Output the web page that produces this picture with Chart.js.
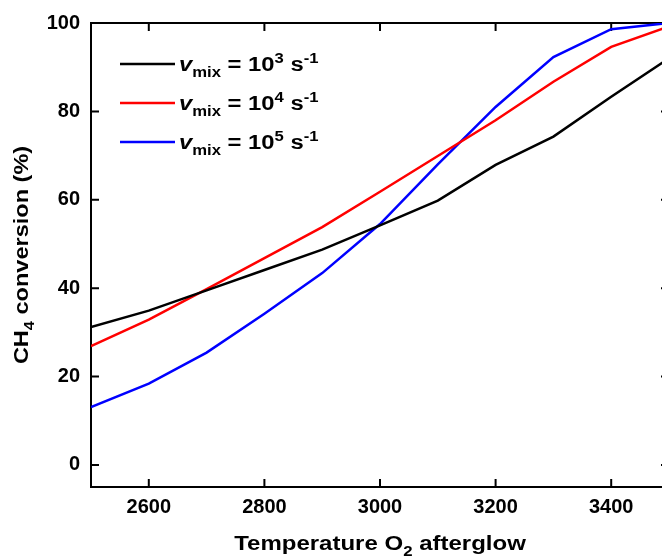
<!DOCTYPE html>
<html>
<head>
<meta charset="utf-8">
<title>CH4 conversion</title>
<script src="https://cdn.jsdelivr.net/npm/chart.js@4/dist/chart.umd.min.js"></script>
<style>
    html, body { margin: 0; padding: 0; overflow: hidden; background: #fff; }
    #wrap { position: absolute; left: 0; top: 0; width: 700px; height: 556px; }
</style>
</head>
<body>
<div id="wrap"><canvas id="convChart"></canvas></div>
<script>
// Data
const temperatures = [2500, 2600, 2700, 2800, 2900, 3000, 3100, 3200, 3300, 3400, 3500];
const conv1e3 = [31.2, 34.9, 39.5, 44.1, 48.7, 54.2, 59.8, 67.9, 74.3, 83.3, 92.0];
const conv1e4 = [26.9, 32.9, 39.8, 46.8, 53.8, 61.8, 69.9, 78.0, 86.7, 94.6, 99.2];
const conv1e5 = [13.1, 18.4, 25.4, 34.2, 43.4, 54.5, 68.0, 81.0, 92.3, 98.6, 100];

const xTicks = [2600, 2800, 3000, 3200, 3400];
const yTicks = [0, 20, 40, 60, 80, 100];

const seriesLabels = ["3", "4", "5"];   // exponent of v_mix
const seriesColors = ["#000000", "#ff0000", "#0000ff"];

const FONT = "'Liberation Sans', Arial, sans-serif";

// area of the plot inside the canvas (right side runs past the window)
const AREA = { left: 91, right: 669, top: 21, bottom: 487 };
const CANVAS_W = 700, CANVAS_H = 556;

function toPoints(values) {
    return temperatures.map((t, i) => ({ x: t, y: values[i] }));
}

// text with sub/superscripts: parts = [[text, kind]], kind = "", "it", "sub", "sup"
function drawRich(ctx, parts, x, y, size, align, sx) {
    const fontFor = kind => {
        const s = (kind === "sub" || kind === "sup") ? size * 0.7 : size;
        return (kind === "it" ? "italic " : "") + "bold " + s + "px " + FONT;
    };
    let total = 0;
    parts.forEach(p => { ctx.font = fontFor(p[1]); total += ctx.measureText(p[0]).width; });
    ctx.save();
    ctx.translate(x, y);
    ctx.scale(sx, 1);
    let cx = align === "center" ? -total / 2 : 0;
    ctx.textAlign = "left";
    ctx.textBaseline = "alphabetic";
    ctx.fillStyle = "#000";
    parts.forEach(p => {
        ctx.font = fontFor(p[1]);
        let dy = 0;
        if (p[1] === "sub") dy = size * 0.3;
        if (p[1] === "sup") dy = -size * 0.42;
        ctx.fillText(p[0], cx, dy);
        cx += ctx.measureText(p[0]).width;
    });
    ctx.restore();
}

// frame with inward ticks on all four sides
const framePlugin = {
    id: "frame",
    beforeDatasetsDraw(chart) {
        const ctx = chart.ctx;
        const a = chart.chartArea;
        const xs = chart.scales.x, ys = chart.scales.y;
        const tl = 8;
        ctx.save();
        ctx.strokeStyle = "#000";
        ctx.lineWidth = 2;
        ctx.strokeRect(a.left, a.top, a.right - a.left, a.bottom - a.top);
        ctx.beginPath();
        xTicks.forEach(v => {
            const px = xs.getPixelForValue(v);
            ctx.moveTo(px, a.bottom); ctx.lineTo(px, a.bottom - tl);
            ctx.moveTo(px, a.top); ctx.lineTo(px, a.top + tl);
        });
        yTicks.forEach(v => {
            const py = ys.getPixelForValue(v);
            ctx.moveTo(a.left, py); ctx.lineTo(a.left + tl, py);
            ctx.moveTo(a.right, py); ctx.lineTo(a.right - tl, py);
        });
        ctx.stroke();
        ctx.restore();
    },
    afterDraw(chart) {
        const ctx = chart.ctx;
        const a = chart.chartArea;

        // axis titles
        drawRich(ctx, [["Temperature O", ""], ["2", "sub"], [" afterglow", ""]],
            (a.left + a.right) / 2, 550, 20, "center", 1.2);
        ctx.save();
        ctx.translate(28, (a.top + a.bottom) / 2);
        ctx.rotate(-Math.PI / 2);
        drawRich(ctx, [["CH", ""], ["4", "sub"], [" conversion (%)", ""]], 0, 0, 21, "center", 1.12);
        ctx.restore();

        // legend
        seriesLabels.forEach((exp, i) => {
            const y = 64 + i * 39;
            ctx.save();
            ctx.strokeStyle = seriesColors[i];
            ctx.lineWidth = 2.5;
            ctx.beginPath();
            ctx.moveTo(120, y);
            ctx.lineTo(175, y);
            ctx.stroke();
            ctx.restore();
            drawRich(ctx, [["v", "it"], ["mix", "sub"], [" = 10", ""], [exp, "sup"], [" s", ""], ["-1", "sup"]],
                179, y + 7, 20, "left", 1.19);
        });
    }
};

function makeDataset(values, color) {
    return {
        data: toPoints(values),
        borderColor: color,
        backgroundColor: color,
        borderWidth: 2.5,
        pointRadius: 0,
        tension: 0,
        fill: false
    };
}

const chart = new Chart(document.getElementById("convChart"), {
    type: "line",
    data: {
        datasets: [
            makeDataset(conv1e3, seriesColors[0]),
            makeDataset(conv1e4, seriesColors[1]),
            makeDataset(conv1e5, seriesColors[2])
        ]
    },
    options: {
        responsive: true,
        maintainAspectRatio: false,
        animation: false,
        layout: { padding: { left: 0, top: AREA.top, right: CANVAS_W - AREA.right, bottom: 0 } },
        plugins: { legend: { display: false }, tooltip: { enabled: false } },
        scales: {
            x: {
                type: "linear",
                min: 2500,
                max: 3500,
                grid: { display: false, drawTicks: false },
                border: { display: false },
                afterBuildTicks: s => { s.ticks = xTicks.map(v => ({ value: v })); },
                afterFit: s => { s.height = CANVAS_H - AREA.bottom; },
                ticks: {
                    color: "#000",
                    padding: 8,
                    maxRotation: 0,
                    callback: v => String(v),
                    font: { family: FONT, size: 20, weight: "bold" }
                }
            },
            y: {
                min: -5,
                max: 100,
                grid: { display: false, drawTicks: false },
                border: { display: false },
                afterBuildTicks: s => { s.ticks = yTicks.map(v => ({ value: v })); },
                afterFit: s => { s.width = AREA.left; },
                ticks: {
                    color: "#000",
                    padding: 11,
                    callback: v => String(v),
                    font: { family: FONT, size: 20, weight: "bold" }
                }
            }
        }
    },
    plugins: [framePlugin]
});
</script>
</body>
</html>
